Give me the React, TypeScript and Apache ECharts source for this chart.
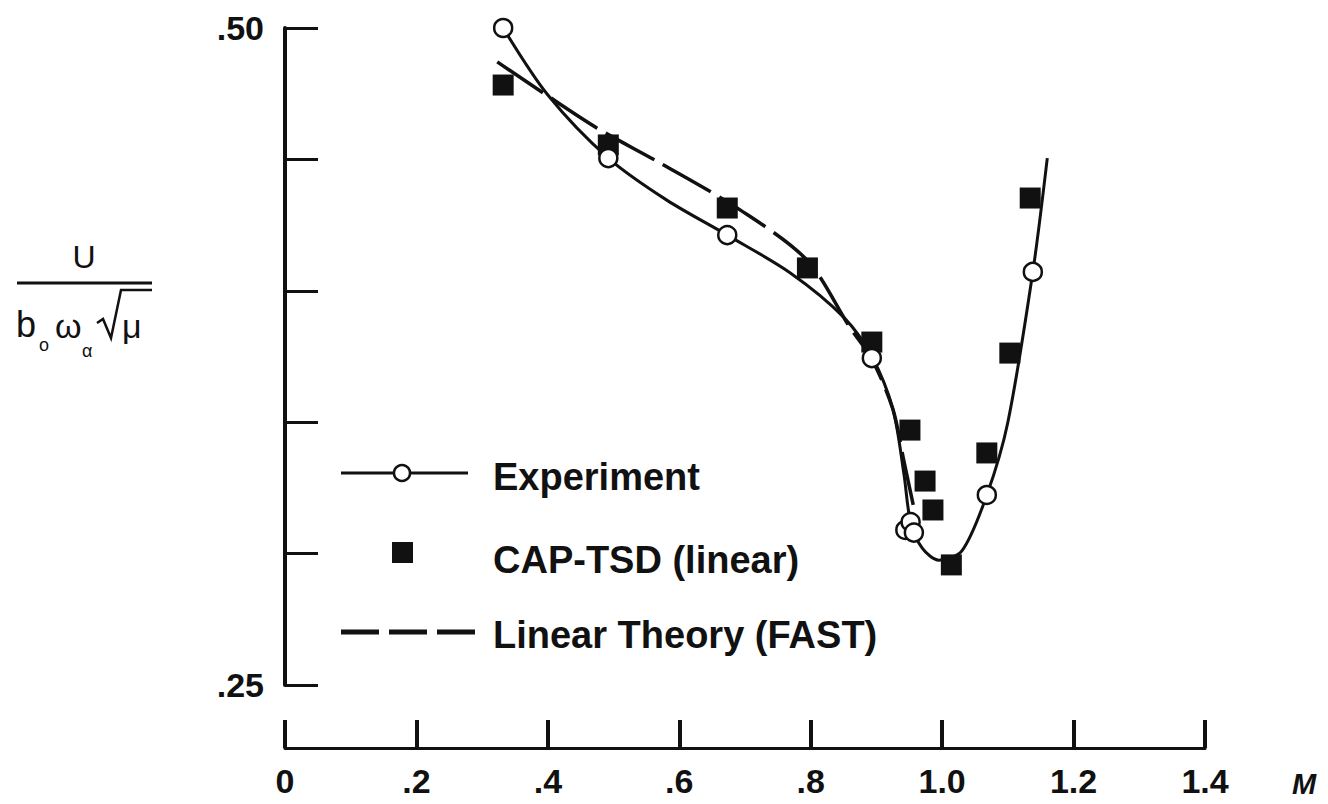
import React, { useEffect, useRef } from "react";
import * as echarts from "echarts";

const FONT = "'Liberation Sans', Arial, Helvetica, sans-serif";

// Tick labels
const xTickLabels: Record<string, string> = {
  "0": "0", "0.2": ".2", "0.4": ".4", "0.6": ".6", "0.8": ".8", "1": "1.0", "1.2": "1.2", "1.4": "1.4",
};
const yTickLabels: Record<string, string> = { "0.25": ".25", "0.5": ".50" };

// Experiment data points (open circles)
const expM = [0.332, 0.492, 0.673, 0.893, 0.944, 0.952, 0.957, 1.068, 1.138];
const expU = [0.500, 0.4505, 0.4212, 0.3744, 0.3090, 0.3120, 0.3080, 0.3223, 0.4072];

// CAP-TSD (linear) points (filled squares)
const capM = [0.332, 0.492, 0.673, 0.795, 0.893, 0.951, 0.974, 0.986, 1.014, 1.068, 1.103, 1.134];
const capU = [0.4783, 0.4555, 0.4315, 0.4087, 0.3805, 0.3470, 0.3276, 0.3166, 0.2957, 0.3383, 0.3763, 0.4353];

// Experiment faired curve (solid)
const expCurveM = [0.332, 0.400, 0.492, 0.581, 0.673, 0.769, 0.850, 0.893, 0.925, 0.942, 0.952, 0.970, 0.995, 1.030, 1.068, 1.100, 1.138, 1.160];
const expCurveU = [0.500, 0.4745, 0.4505, 0.4345, 0.4212, 0.4068, 0.3900, 0.3750, 0.3550, 0.3300, 0.3120, 0.3020, 0.2975, 0.3010, 0.3223, 0.3500, 0.4072, 0.4505];

// Linear Theory (FAST) curve (dashed)
const fastM = [0.323, 0.393, 0.475, 0.571, 0.693, 0.795, 0.860, 0.893, 0.925, 0.942, 0.956];
const fastU = [0.4871, 0.4753, 0.4619, 0.4486, 0.4307, 0.4115, 0.3859, 0.3740, 0.3550, 0.3350, 0.3185];

const zip = (a: number[], b: number[]) => a.map((v, i) => [v, b[i]]);

function keyOf(v: number) {
  return String(Math.round(v * 100) / 100);
}

function label(text: string, x: number, y: number, size: number, extra: any = {}) {
  return {
    type: "text",
    x,
    y,
    style: {
      text,
      fontFamily: FONT,
      fontSize: size,
      fill: "#111",
      align: "left",
      verticalAlign: "middle",
      textAlign: "left",
      textVerticalAlign: "middle",
      ...extra,
    },
  };
}

export default function App() {
  const ref = useRef<HTMLDivElement>(null);
  useEffect(() => {
    if (!ref.current) return;
    const chart = echarts.init(ref.current, undefined, { renderer: "svg" });
    chart.setOption({
      animation: false,
      backgroundColor: "#ffffff",
      grid: { left: 285, right: 123, top: 28, bottom: 119, containLabel: false },
      xAxis: {
        type: "value",
        min: 0,
        max: 1.4,
        interval: 0.2,
        offset: 63,
        position: "bottom",
        splitLine: { show: false },
        axisLine: { show: true, lineStyle: { color: "#111", width: 3 } },
        axisTick: { show: true, inside: true, length: 28, lineStyle: { color: "#111", width: 4 } },
        axisLabel: {
          margin: 16,
          fontFamily: FONT,
          fontSize: 34,
          fontWeight: "bold",
          color: "#111",
          formatter: (v: number) => xTickLabels[keyOf(v)] ?? "",
        },
      },
      yAxis: {
        type: "value",
        min: 0.25,
        max: 0.5,
        interval: 0.05,
        offset: 7,
        position: "left",
        splitLine: { show: false },
        axisLine: { show: true, lineStyle: { color: "#111", width: 4 } },
        axisTick: { show: true, inside: true, length: 33, lineStyle: { color: "#111", width: 3 } },
        axisLabel: {
          margin: 14,
          fontFamily: FONT,
          fontSize: 34,
          fontWeight: "bold",
          color: "#111",
          formatter: (v: number) => yTickLabels[keyOf(v)] ?? "",
        },
      },
      series: [
        {
          name: "Experiment curve",
          type: "line",
          data: zip(expCurveM, expCurveU),
          smooth: 0.3,
          showSymbol: false,
          symbol: "none",
          lineStyle: { color: "#111", width: 3 },
          z: 2,
        },
        {
          name: "Linear Theory (FAST)",
          type: "line",
          data: zip(fastM, fastU),
          smooth: 0.3,
          showSymbol: false,
          symbol: "none",
          lineStyle: { color: "#111", width: 3.5, type: [55, 10] },
          z: 2,
        },
        {
          name: "CAP-TSD (linear)",
          type: "scatter",
          data: zip(capM, capU),
          symbol: "rect",
          symbolSize: 21,
          itemStyle: { color: "#111", opacity: 1 },
          z: 3,
        },
        {
          name: "Experiment",
          type: "scatter",
          data: zip(expM, expU),
          symbol: "circle",
          symbolSize: 18,
          itemStyle: { color: "#ffffff", borderColor: "#111", borderWidth: 2.5, opacity: 1 },
          z: 4,
        },
      ],
      graphic: [
        // Y axis title: U / (b_o ω_α √μ)
        label("U", 84, 257, 32, { align: "center", textAlign: "center" }),
        { type: "line", shape: { x1: 17, y1: 283, x2: 152, y2: 283 }, style: { stroke: "#111", lineWidth: 3 } },
        label("b", 16, 324, 36),
        label("o", 39, 345, 18),
        label("ω", 55, 326, 34),
        label("α", 82, 351, 18),
        {
          type: "polyline",
          shape: { points: [[97, 323], [103, 319], [111, 338], [121, 290], [152, 290]] },
          style: { stroke: "#111", lineWidth: 2.5, fill: "none" },
        },
        label("μ", 122, 326, 34),
        // x axis name
        label("M", 1292, 784, 29, { fontStyle: "italic", fontWeight: "bold" }),
        // Legend
        { type: "line", shape: { x1: 341, y1: 473, x2: 468, y2: 473 }, style: { stroke: "#111", lineWidth: 3 } },
        { type: "circle", shape: { cx: 402, cy: 473, r: 8 }, style: { fill: "#fff", stroke: "#111", lineWidth: 2.5 } },
        label("Experiment", 493, 477, 38, { fontWeight: "bold" }),
        { type: "rect", shape: { x: 392, y: 542, width: 21, height: 21 }, style: { fill: "#111" } },
        label("CAP-TSD (linear)", 493, 560, 38, { fontWeight: "bold" }),
        { type: "line", shape: { x1: 341, y1: 632, x2: 476, y2: 632 }, style: { stroke: "#111", lineWidth: 5, lineDash: [38, 10] } },
        label("Linear Theory (FAST)", 493, 635, 38, { fontWeight: "bold" }),
      ],
    });
    return () => chart.dispose();
  }, []);
  return (
    <div
      ref={ref}
      style={{ position: "fixed", left: 0, top: 0, width: 1328, height: 804, background: "#fff" }}
    />
  );
}
